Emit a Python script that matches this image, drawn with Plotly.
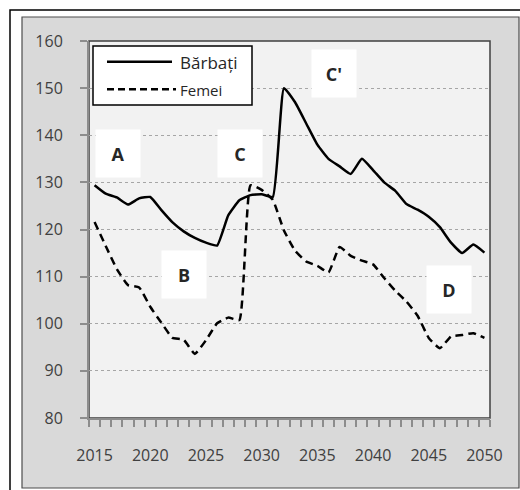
import plotly.graph_objects as go

# ---------------- data ----------------
years = list(range(2015, 2051))
barbati = [129.4, 127.6, 126.8, 125.3, 126.6, 126.9, 124.1, 121.5, 119.6, 118.2,
           117.2, 116.6, 123.0, 126.2, 127.3, 127.5, 126.9, 150.0, 147.0, 142.5,
           138.0, 135.0, 133.4, 131.8, 135.0, 132.6, 130.0, 128.2, 125.4, 124.2,
           122.7, 120.5, 117.2, 115.0, 116.8, 115.1]
femei = [121.6, 116.5, 111.6, 108.2, 107.7, 103.6, 100.2, 97.0, 96.6, 93.6,
         96.5, 100.1, 101.3, 100.8, 129.4, 128.4, 126.3, 119.8, 115.5, 113.2,
         112.3, 110.9, 116.3, 114.4, 113.4, 112.6, 109.7, 107.0, 104.7, 101.7,
         97.0, 94.8, 97.3, 97.6, 98.0, 97.0]
series_names = ["Bărbați", "Femei"]
x_tick_vals = [2015, 2020, 2025, 2030, 2035, 2040, 2045, 2050]
x_tick_text = ["2015", "2020", "2025", "2030", "2035", "2040", "2045", "2050"]
y_tick_vals = [80, 90, 100, 110, 120, 130, 140, 150, 160]
letters = ["A", "B", "C", "C'", "D"]
letter_x = [2017.06, 2023.07, 2028.06, 2036.5, 2046.86]
letter_y = [136.1, 110.35, 136.1, 153.1, 107.27]

# ---------------- layout geometry ----------------
W, H = 520, 490
L, R, T, B = 89, 30, 41, 72
PW, PH = W - L - R, H - T - B


def px_x(p):
    return (p - L) / PW


def px_y(p):
    return (H - B - p) / PH


FONT = "Open Sans"
TXT = "#404040"

fig = go.Figure()
fig.add_trace(go.Scatter(x=years, y=barbati, mode="lines", name=series_names[0],
                         line=dict(color="black", width=2.5, shape="spline", smoothing=0.4),
                         showlegend=False))
fig.add_trace(go.Scatter(x=years, y=femei, mode="lines", name=series_names[1],
                         line=dict(color="black", width=2.5, dash="8px,5px", shape="spline", smoothing=0.4),
                         showlegend=False))

shapes = [
    # outer frame
    dict(type="rect", xref="paper", yref="paper", x0=px_x(10), x1=px_x(530), y0=px_y(500), y1=px_y(10),
         line=dict(color="black", width=1.5), fillcolor="white", layer="below"),
    # gray chart area
    dict(type="rect", xref="paper", yref="paper", x0=px_x(22), x1=px_x(519), y0=px_y(488), y1=px_y(17),
         line=dict(color="#4d4d4d", width=1.2), fillcolor="#d9d9d9", layer="below"),
    # plot area
    dict(type="rect", xref="paper", yref="paper", x0=0, x1=1, y0=0, y1=1,
         line=dict(color="#404040", width=1.5), fillcolor="#f2f2f2", layer="below"),
    # legend box
    dict(type="rect", xref="paper", yref="paper", x0=px_x(93), x1=px_x(252), y0=px_y(105), y1=px_y(46),
         line=dict(color="black", width=1.5), fillcolor="white", layer="above"),
    dict(type="line", xref="paper", yref="paper", x0=px_x(107), x1=px_x(172), y0=px_y(61.7), y1=px_y(61.7),
         line=dict(color="black", width=2.5), layer="above"),
    dict(type="line", xref="paper", yref="paper", x0=px_x(107), x1=px_x(176), y0=px_y(89.3), y1=px_y(89.3),
         line=dict(color="black", width=2.5, dash="7px,4px"), layer="above"),
]

annotations = [
    dict(xref="paper", yref="paper", x=px_x(178), y=px_y(62), xanchor="left", yanchor="middle",
         text=series_names[0], showarrow=False, font=dict(family=FONT, size=17, color="#262626")),
    dict(xref="paper", yref="paper", x=px_x(178), y=px_y(90), xanchor="left", yanchor="middle",
         text=series_names[1], showarrow=False, font=dict(family=FONT, size=15, color="#262626")),
]
for t, lx, ly in zip(letters, letter_x, letter_y):
    annotations.append(dict(x=lx, y=ly, xref="x", yref="y", text="<b>" + t + "</b>", showarrow=False,
                            width=44, height=47, bgcolor="white", borderpad=0,
                            font=dict(family=FONT, size=18, color="#262626")))

fig.update_layout(
    width=W, height=H, margin=dict(l=L, r=R, t=T, b=B),
    paper_bgcolor="white", plot_bgcolor="#f2f2f2",
    shapes=shapes, annotations=annotations, showlegend=False,
    xaxis=dict(range=[2014.5, 2050.5], tickmode="array", tickvals=x_tick_vals, ticktext=x_tick_text,
               ticks="", showgrid=False, zeroline=False, showline=True, linecolor="#8c8c8c", linewidth=2,
               tickfont=dict(family=FONT, size=16, color=TXT), ticklabelstandoff=22,
               minor=dict(tickmode="array", tickvals=[y + 0.5 for y in range(2014, 2051)],
                          ticks="outside", ticklen=7, tickcolor="#8c8c8c", tickwidth=1.5, showgrid=False)),
    yaxis=dict(range=[80, 160], tickmode="array", tickvals=y_tick_vals, ticks="outside", ticklen=7,
               tickcolor="#8c8c8c", tickwidth=1.5, showgrid=True, gridcolor="#a6a6a6", griddash="dot",
               gridwidth=1, zeroline=False, showline=True, linecolor="#8c8c8c", linewidth=2,
               tickfont=dict(family=FONT, size=16, color=TXT), ticklabelstandoff=14),
)

fig.write_html("out.html", config={"displayModeBar": False},
               post_script="document.body.style.margin='0';document.body.style.overflow='hidden';")
